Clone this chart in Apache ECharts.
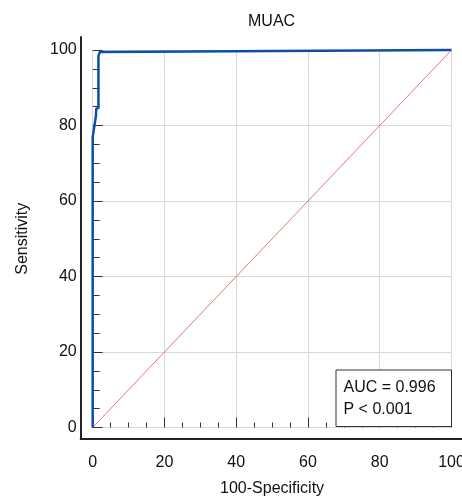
<!DOCTYPE html>
<html>
<head>
<meta charset="utf-8">
<script src="https://cdn.jsdelivr.net/npm/echarts@6/dist/echarts.min.js"></script>
<style>
  html, body { margin: 0; padding: 0; background: #fff; }
  #chart { width: 462px; height: 496px; }
</style>
</head>
<body>
<div id="chart"></div>
<script>
// ROC 曲线数据 (100-Specificity, Sensitivity)
var rocFpr = [0, 0, 0.9, 1.0, 1.6, 1.6, 2.0, 2.4, 100];
var rocTpr = [0, 77, 82.5, 84.5, 84.6, 98.5, 99.5, 100, 100];
// 参考对角线
var refX = [0, 100];
var refY = [0, 100];
var chartTitle = 'MUAC';
var aucText = ['AUC = 0.996', 'P < 0.001'];

var font = '"Liberation Sans", Arial, Helvetica, sans-serif';
var myChart = echarts.init(document.getElementById('chart'));

function zip(a, b) {
  return a.map(function (v, i) { return [v, b[i]]; });
}

var tickLine = { color: '#333', width: 1 };

myChart.setOption({
  animation: false,
  title: {
    text: chartTitle,
    left: 248,
    top: 14,
    padding: 0,
    textStyle: { fontFamily: font, fontSize: 16, fontWeight: 'normal', color: '#111' }
  },
  grid: [
    // 数据区
    { left: 92.7, right: 10.5, top: 50, bottom: 68.5, containLabel: false, outerBoundsMode: 'none' },
    // 只画坐标轴线
    { left: 80.7, right: 0, top: 37, bottom: 57, containLabel: false, outerBoundsMode: 'none' }
  ],
  xAxis: [{
    type: 'value',
    gridIndex: 0,
    min: 0,
    max: 100,
    interval: 20,
    offset: 11,
    name: '100-Specificity',
    nameLocation: 'middle',
    nameGap: 42,
    nameTextStyle: { fontFamily: font, fontSize: 16, color: '#111' },
    axisLine: { show: false },
    axisTick: { show: true, inside: true, length: 10, lineStyle: tickLine },
    minorTick: { show: true, splitNumber: 4, length: 5, lineStyle: tickLine },
    axisLabel: { margin: 16, fontFamily: font, fontSize: 16, color: '#111', hideOverlap: false },
    splitLine: { show: true, lineStyle: { color: '#d9d9d9', width: 1 } }
  }, {
    type: 'value',
    gridIndex: 1,
    min: 0,
    max: 1,
    axisLine: { show: true, onZero: false, lineStyle: { color: '#222', width: 2 } },
    axisTick: { show: false },
    axisLabel: { show: false },
    splitLine: { show: false }
  }],
  yAxis: [{
    type: 'value',
    gridIndex: 0,
    min: 0,
    max: 100,
    interval: 20,
    offset: 12,
    name: 'Sensitivity',
    nameLocation: 'middle',
    nameGap: 50,
    nameRotate: 90,
    nameTextStyle: { fontFamily: font, fontSize: 16, color: '#111' },
    axisLine: { show: false },
    axisTick: { show: true, inside: true, length: 10, lineStyle: tickLine },
    minorTick: { show: true, splitNumber: 4, length: 7, lineStyle: tickLine },
    axisLabel: { margin: 4, fontFamily: font, fontSize: 16, color: '#111' },
    splitLine: { show: true, lineStyle: { color: '#d9d9d9', width: 1 } }
  }, {
    type: 'value',
    gridIndex: 1,
    min: 0,
    max: 1,
    axisLine: { show: true, onZero: false, lineStyle: { color: '#222', width: 2 } },
    axisTick: { show: false },
    axisLabel: { show: false },
    splitLine: { show: false }
  }],
  series: [{
    name: 'reference',
    type: 'line',
    xAxisIndex: 0,
    yAxisIndex: 0,
    data: zip(refX, refY),
    symbol: 'none',
    lineStyle: { color: '#dd5555', width: 0.8 },
    z: 2
  }, {
    name: 'ROC',
    type: 'line',
    xAxisIndex: 0,
    yAxisIndex: 0,
    data: zip(rocFpr, rocTpr),
    symbol: 'none',
    clip: false,
    lineStyle: { color: '#0c4fa3', width: 2.5 },
    z: 3
  }],
  graphic: [{
    type: 'rect',
    shape: { x: 336, y: 370, width: 115.5, height: 56.5 },
    style: { fill: '#fff', stroke: '#333', lineWidth: 1 },
    z: 100
  }, {
    type: 'text',
    x: 343.5,
    y: 377,
    style: {
      text: aucText.join('\n'),
      font: '16px ' + font,
      lineHeight: 21.5,
      fill: '#111'
    },
    z: 101
  }]
});
</script>
</body>
</html>
